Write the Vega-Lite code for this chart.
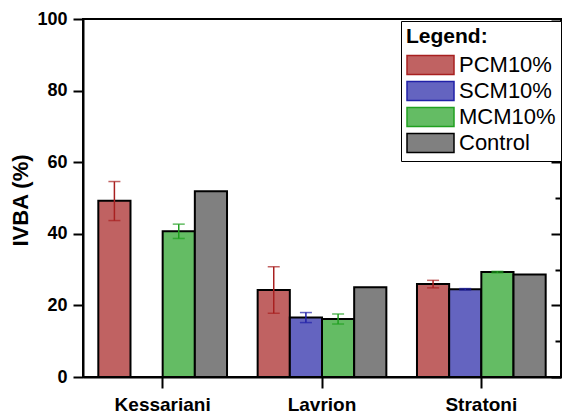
{
  "$schema": "https://vega.github.io/schema/vega-lite/v6.json",
  "width": 478,
  "height": 358,
  "autosize": {"type": "none"},
  "padding": {"left": 83, "top": 19, "right": 1, "bottom": 37},
  "background": "white",
  "config": {
    "font": "Liberation Sans",
    "view": {"stroke": "black", "strokeWidth": 2},
    "axis": {"grid": false, "domainColor": "black", "domainWidth": 2, "tickColor": "black", "tickWidth": 2, "labelColor": "black", "titleColor": "black"}
  },
  "data": {
    "values": [
      {"site": "Kessariani", "group": "PCM10%", "value": 49.2, "lo": 43.7, "hi": 54.6},
      {"site": "Kessariani", "group": "MCM10%", "value": 40.7, "lo": 38.7, "hi": 42.7},
      {"site": "Kessariani", "group": "Control", "value": 51.9},
      {"site": "Lavrion", "group": "PCM10%", "value": 24.3, "lo": 17.8, "hi": 30.8},
      {"site": "Lavrion", "group": "SCM10%", "value": 16.6, "lo": 15.2, "hi": 18.0},
      {"site": "Lavrion", "group": "MCM10%", "value": 16.2, "lo": 14.8, "hi": 17.6},
      {"site": "Lavrion", "group": "Control", "value": 25.1},
      {"site": "Stratoni", "group": "PCM10%", "value": 26.0, "lo": 24.9, "hi": 27.0},
      {"site": "Stratoni", "group": "SCM10%", "value": 24.5, "lo": 24.3, "hi": 24.7},
      {"site": "Stratoni", "group": "MCM10%", "value": 29.3, "lo": 29.1, "hi": 29.5},
      {"site": "Stratoni", "group": "Control", "value": 28.6}
    ]
  },
  "encoding": {
    "x": {"field": "site", "type": "nominal", "sort": ["Kessariani", "Lavrion", "Stratoni"], "scale": {"paddingInner": 0, "paddingOuter": 0},
      "axis": {"title": null, "labelAngle": 0, "labelFontSize": 19, "labelFontWeight": "bold", "labelPadding": 7, "tickSize": 11, "domainWidth": 2}},
    "xOffset": {"field": "group", "type": "nominal", "scale": {"domain": ["PCM10%", "SCM10%", "MCM10%", "Control"], "paddingInner": 0, "paddingOuter": 0.476}}
  },
  "layer": [
    {
      "mark": {"type": "bar", "stroke": "black", "strokeWidth": 2, "strokeOpacity": 1, "fillOpacity": 1},
      "encoding": {
        "y": {"field": "value", "type": "quantitative", "scale": {"domain": [0, 100], "nice": false},
          "axis": {"title": "IVBA (%)", "titleFontSize": 22, "titleFontWeight": "bold", "titleAngle": -90, "titleX": -63, "titleY": 181, "titleAlign": "center", "titleBaseline": "middle",
            "values": [0, 20, 40, 60, 80, 100], "labelFontSize": 18, "labelFontWeight": "bold", "tickSize": 10, "labelPadding": 6}},
        "color": {"field": "group", "type": "nominal",
          "scale": {"domain": ["PCM10%", "SCM10%", "MCM10%", "Control"], "range": ["#c06262", "#6464c0", "#64bc64", "#808080"]},
          "legend": {"orient": "none", "legendX": 318, "legendY": 2, "title": "Legend:", "titleFontSize": 21, "titleFontWeight": "bold", "titleColor": "black", "titlePadding": 7,
            "labelFontSize": 22, "labelColor": "black", "labelOffset": 31,
            "symbolType": "M-1,-0.95L3.7,-0.95L3.7,0.95L-1,0.95Z", "symbolSize": 400, "symbolStrokeColor": "black", "symbolStrokeWidth": 1.5, "symbolOpacity": 1,
            "rowPadding": 0, "strokeColor": "black", "fillColor": "white", "padding": 5, "offset": 0}}
      }
    },
    {
      "mark": {"type": "rule", "strokeWidth": 1.5},
      "encoding": {
        "y": {"field": "lo", "type": "quantitative", "axis": {"title": null, "values": [10, 30, 50, 70, 90], "labels": false, "domain": false, "tickSize": 5}},
        "y2": {"field": "hi"},
        "stroke": {"field": "group", "type": "nominal", "scale": {"domain": ["PCM10%", "SCM10%", "MCM10%", "Control"], "range": ["#a82020", "#2020a8", "#20a020", "#000000"]}, "legend": null}
      }
    },
    {
      "mark": {"type": "tick", "thickness": 1.5, "size": 12},
      "encoding": {
        "y": {"field": "hi", "type": "quantitative", "axis": {"orient": "right", "title": null, "values": [0, 20, 40, 60, 80, 100], "labels": false, "domain": false, "tickSize": -10}},
        "fill": {"field": "group", "type": "nominal", "scale": {"domain": ["PCM10%", "SCM10%", "MCM10%", "Control"], "range": ["#a82020", "#2020a8", "#20a020", "#000000"]}, "legend": null}
      }
    },
    {
      "mark": {"type": "tick", "thickness": 1.5, "size": 12},
      "encoding": {
        "y": {"field": "lo", "type": "quantitative", "axis": {"orient": "right", "title": null, "values": [10, 30, 50, 70, 90], "labels": false, "domain": false, "tickSize": -6}},
        "fill": {"field": "group", "type": "nominal", "scale": {"domain": ["PCM10%", "SCM10%", "MCM10%", "Control"], "range": ["#a82020", "#2020a8", "#20a020", "#000000"]}, "legend": null}
      }
    }
  ],
  "resolve": {"axis": {"y": "independent"}}
}
